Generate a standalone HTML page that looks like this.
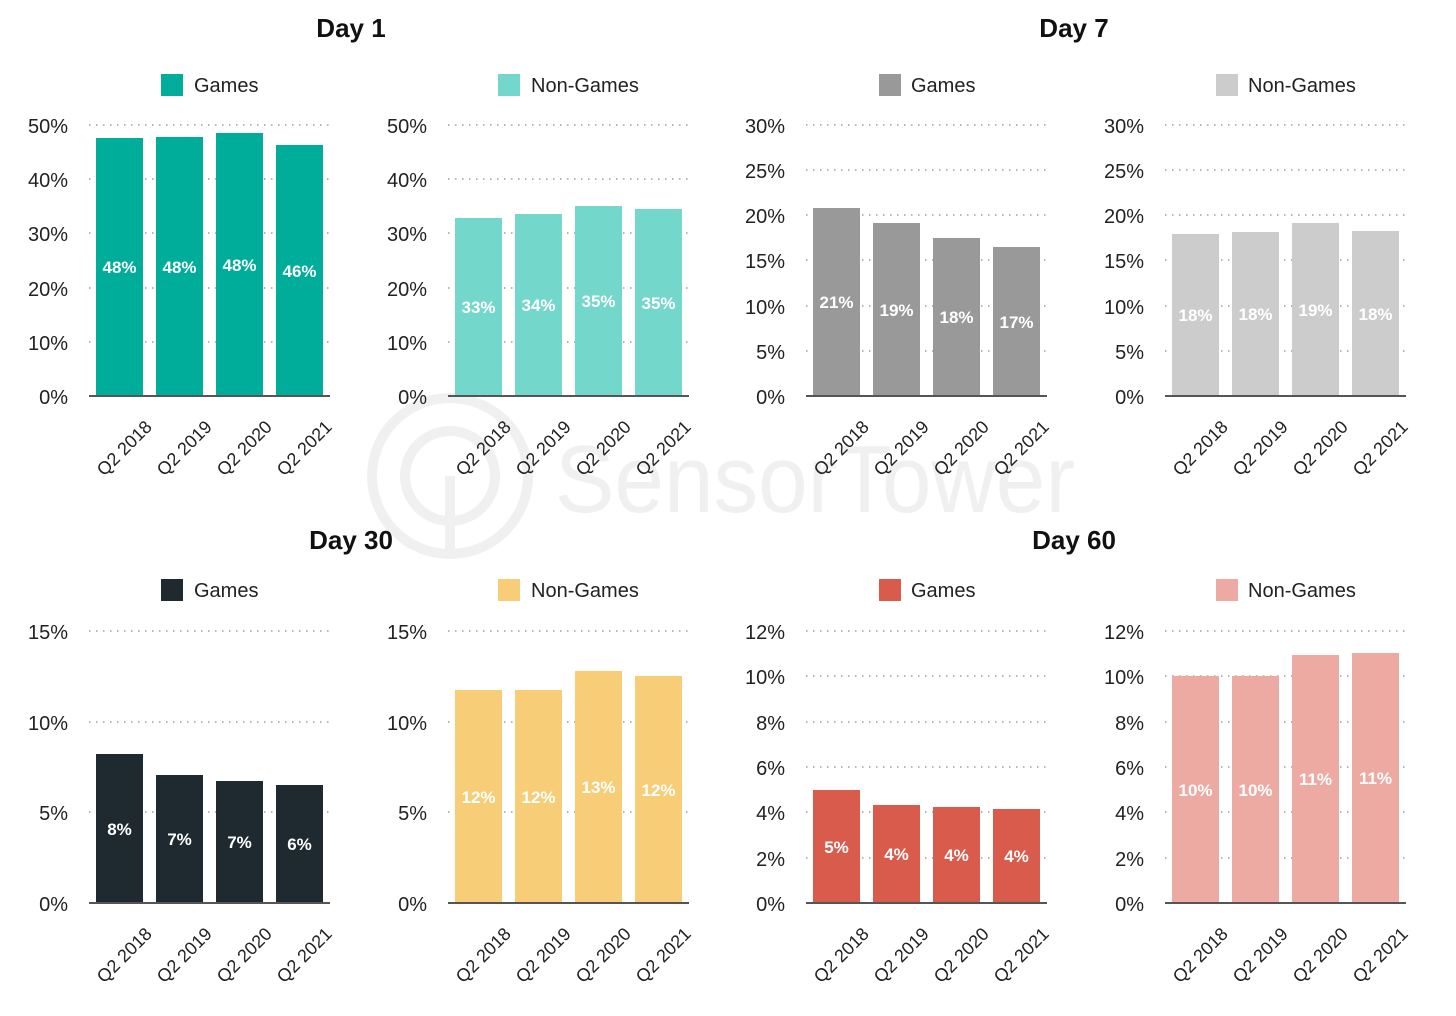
<!DOCTYPE html>
<html><head><meta charset="utf-8"><style>
html,body{margin:0;padding:0;background:#fff;}
svg{display:block;font-family:"Liberation Sans",sans-serif;}
.t{font-size:26px;font-weight:bold;text-anchor:middle;fill:#111;}
.lg{font-size:20px;fill:#222;}
.y{font-size:20px;text-anchor:end;fill:#222;}
.x{font-size:18px;text-anchor:end;fill:#222;}
.v{font-size:17px;font-weight:bold;text-anchor:middle;fill:#fff;}
.g{stroke:#b5b5b5;stroke-width:2;stroke-dasharray:1.5 5.5;}
.b{stroke:#555;stroke-width:2;}
</style></head><body>
<svg width="1456" height="1016" viewBox="0 0 1456 1016">
<!-- watermark -->
<circle cx="450" cy="476" r="78" fill="none" stroke="#f0f0f0" stroke-width="10"/>
<circle cx="450" cy="476" r="45" fill="none" stroke="#f0f0f0" stroke-width="10"/>
<line x1="450" y1="476" x2="450" y2="556" stroke="#f0f0f0" stroke-width="10"/>
<text x="555" y="512" font-size="96" fill="#f0f0f0" textLength="520" lengthAdjust="spacingAndGlyphs">SensorTower</text>

<text class="t" x="351" y="37">Day 1</text>
<text class="t" x="1074" y="37">Day 7</text>
<text class="t" x="351" y="549">Day 30</text>
<text class="t" x="1074" y="549">Day 60</text>

<!-- Panel 1 -->
<g transform="translate(89,0)">
<rect x="72" y="74" width="22" height="22" fill="#00AC9A"/><text class="lg" x="105" y="92">Games</text>
<g class="g"><line x1="0" x2="241" y1="125" y2="125"/><line x1="0" x2="241" y1="179" y2="179"/><line x1="0" x2="241" y1="233" y2="233"/><line x1="0" x2="241" y1="288" y2="288"/><line x1="0" x2="241" y1="342" y2="342"/></g>
<text class="y" x="-21" y="133">50%</text><text class="y" x="-21" y="187">40%</text><text class="y" x="-21" y="241">30%</text><text class="y" x="-21" y="296">20%</text><text class="y" x="-21" y="350">10%</text><text class="y" x="-21" y="404">0%</text>
<g fill="#00AC9A"><rect x="7" y="138" width="47" height="258"/><rect x="67" y="137" width="47" height="259"/><rect x="127" y="133" width="47" height="263"/><rect x="187" y="145" width="47" height="251"/></g>
<line class="b" x1="0" x2="241" y1="396" y2="396"/>
<text class="v" x="30.5" y="273">48%</text><text class="v" x="90.5" y="273">48%</text><text class="v" x="150.5" y="271">48%</text><text class="v" x="210.5" y="277">46%</text>
<text class="x" transform="translate(64,428) rotate(-45)">Q2 2018</text><text class="x" transform="translate(124,428) rotate(-45)">Q2 2019</text><text class="x" transform="translate(184,428) rotate(-45)">Q2 2020</text><text class="x" transform="translate(244,428) rotate(-45)">Q2 2021</text>
</g>

<!-- Panel 2 -->
<g transform="translate(448,0)">
<rect x="50" y="74" width="22" height="22" fill="#74D7CC"/><text class="lg" x="83" y="92">Non-Games</text>
<g class="g"><line x1="0" x2="241" y1="125" y2="125"/><line x1="0" x2="241" y1="179" y2="179"/><line x1="0" x2="241" y1="233" y2="233"/><line x1="0" x2="241" y1="288" y2="288"/><line x1="0" x2="241" y1="342" y2="342"/></g>
<text class="y" x="-21" y="133">50%</text><text class="y" x="-21" y="187">40%</text><text class="y" x="-21" y="241">30%</text><text class="y" x="-21" y="296">20%</text><text class="y" x="-21" y="350">10%</text><text class="y" x="-21" y="404">0%</text>
<g fill="#74D7CC"><rect x="7" y="218" width="47" height="178"/><rect x="67" y="214" width="47" height="182"/><rect x="127" y="206" width="47" height="190"/><rect x="187" y="209" width="47" height="187"/></g>
<line class="b" x1="0" x2="241" y1="396" y2="396"/>
<text class="v" x="30.5" y="313">33%</text><text class="v" x="90.5" y="311">34%</text><text class="v" x="150.5" y="307">35%</text><text class="v" x="210.5" y="309">35%</text>
<text class="x" transform="translate(64,428) rotate(-45)">Q2 2018</text><text class="x" transform="translate(124,428) rotate(-45)">Q2 2019</text><text class="x" transform="translate(184,428) rotate(-45)">Q2 2020</text><text class="x" transform="translate(244,428) rotate(-45)">Q2 2021</text>
</g>

<!-- Panel 3 -->
<g transform="translate(806,0)">
<rect x="73" y="74" width="22" height="22" fill="#999999"/><text class="lg" x="105" y="92">Games</text>
<g class="g"><line x1="0" x2="241" y1="125" y2="125"/><line x1="0" x2="241" y1="170" y2="170"/><line x1="0" x2="241" y1="215" y2="215"/><line x1="0" x2="241" y1="260" y2="260"/><line x1="0" x2="241" y1="306" y2="306"/><line x1="0" x2="241" y1="351" y2="351"/></g>
<text class="y" x="-21" y="133">30%</text><text class="y" x="-21" y="178">25%</text><text class="y" x="-21" y="223">20%</text><text class="y" x="-21" y="268">15%</text><text class="y" x="-21" y="314">10%</text><text class="y" x="-21" y="359">5%</text><text class="y" x="-21" y="404">0%</text>
<g fill="#999999"><rect x="7" y="208" width="47" height="188"/><rect x="67" y="223" width="47" height="173"/><rect x="127" y="238" width="47" height="158"/><rect x="187" y="247" width="47" height="149"/></g>
<line class="b" x1="0" x2="241" y1="396" y2="396"/>
<text class="v" x="30.5" y="308">21%</text><text class="v" x="90.5" y="316">19%</text><text class="v" x="150.5" y="323">18%</text><text class="v" x="210.5" y="328">17%</text>
<text class="x" transform="translate(64,428) rotate(-45)">Q2 2018</text><text class="x" transform="translate(124,428) rotate(-45)">Q2 2019</text><text class="x" transform="translate(184,428) rotate(-45)">Q2 2020</text><text class="x" transform="translate(244,428) rotate(-45)">Q2 2021</text>
</g>

<!-- Panel 4 -->
<g transform="translate(1165,0)">
<rect x="51" y="74" width="22" height="22" fill="#CCCCCC"/><text class="lg" x="83" y="92">Non-Games</text>
<g class="g"><line x1="0" x2="241" y1="125" y2="125"/><line x1="0" x2="241" y1="170" y2="170"/><line x1="0" x2="241" y1="215" y2="215"/><line x1="0" x2="241" y1="260" y2="260"/><line x1="0" x2="241" y1="306" y2="306"/><line x1="0" x2="241" y1="351" y2="351"/></g>
<text class="y" x="-21" y="133">30%</text><text class="y" x="-21" y="178">25%</text><text class="y" x="-21" y="223">20%</text><text class="y" x="-21" y="268">15%</text><text class="y" x="-21" y="314">10%</text><text class="y" x="-21" y="359">5%</text><text class="y" x="-21" y="404">0%</text>
<g fill="#CCCCCC"><rect x="7" y="234" width="47" height="162"/><rect x="67" y="232" width="47" height="164"/><rect x="127" y="223" width="47" height="173"/><rect x="187" y="231" width="47" height="165"/></g>
<line class="b" x1="0" x2="241" y1="396" y2="396"/>
<text class="v" x="30.5" y="321">18%</text><text class="v" x="90.5" y="320">18%</text><text class="v" x="150.5" y="316">19%</text><text class="v" x="210.5" y="320">18%</text>
<text class="x" transform="translate(64,428) rotate(-45)">Q2 2018</text><text class="x" transform="translate(124,428) rotate(-45)">Q2 2019</text><text class="x" transform="translate(184,428) rotate(-45)">Q2 2020</text><text class="x" transform="translate(244,428) rotate(-45)">Q2 2021</text>
</g>

<!-- Panel 5 -->
<g transform="translate(89,0)">
<rect x="72" y="579" width="22" height="22" fill="#1E2A30"/><text class="lg" x="105" y="597">Games</text>
<g class="g"><line x1="0" x2="241" y1="631" y2="631"/><line x1="0" x2="241" y1="722" y2="722"/><line x1="0" x2="241" y1="812" y2="812"/></g>
<text class="y" x="-21" y="639">15%</text><text class="y" x="-21" y="730">10%</text><text class="y" x="-21" y="820">5%</text><text class="y" x="-21" y="911">0%</text>
<g fill="#1E2A30"><rect x="7" y="754" width="47" height="149"/><rect x="67" y="775" width="47" height="128"/><rect x="127" y="781" width="47" height="122"/><rect x="187" y="785" width="47" height="118"/></g>
<line class="b" x1="0" x2="241" y1="903" y2="903"/>
<text class="v" x="30.5" y="835">8%</text><text class="v" x="90.5" y="845">7%</text><text class="v" x="150.5" y="848">7%</text><text class="v" x="210.5" y="850">6%</text>
<text class="x" transform="translate(64,935) rotate(-45)">Q2 2018</text><text class="x" transform="translate(124,935) rotate(-45)">Q2 2019</text><text class="x" transform="translate(184,935) rotate(-45)">Q2 2020</text><text class="x" transform="translate(244,935) rotate(-45)">Q2 2021</text>
</g>

<!-- Panel 6 -->
<g transform="translate(448,0)">
<rect x="50" y="579" width="22" height="22" fill="#F7CD78"/><text class="lg" x="83" y="597">Non-Games</text>
<g class="g"><line x1="0" x2="241" y1="631" y2="631"/><line x1="0" x2="241" y1="722" y2="722"/><line x1="0" x2="241" y1="812" y2="812"/></g>
<text class="y" x="-21" y="639">15%</text><text class="y" x="-21" y="730">10%</text><text class="y" x="-21" y="820">5%</text><text class="y" x="-21" y="911">0%</text>
<g fill="#F7CD78"><rect x="7" y="690" width="47" height="213"/><rect x="67" y="690" width="47" height="213"/><rect x="127" y="671" width="47" height="232"/><rect x="187" y="676" width="47" height="227"/></g>
<line class="b" x1="0" x2="241" y1="903" y2="903"/>
<text class="v" x="30.5" y="803">12%</text><text class="v" x="90.5" y="803">12%</text><text class="v" x="150.5" y="793">13%</text><text class="v" x="210.5" y="796">12%</text>
<text class="x" transform="translate(64,935) rotate(-45)">Q2 2018</text><text class="x" transform="translate(124,935) rotate(-45)">Q2 2019</text><text class="x" transform="translate(184,935) rotate(-45)">Q2 2020</text><text class="x" transform="translate(244,935) rotate(-45)">Q2 2021</text>
</g>

<!-- Panel 7 -->
<g transform="translate(806,0)">
<rect x="73" y="579" width="22" height="22" fill="#D95B4C"/><text class="lg" x="105" y="597">Games</text>
<g class="g"><line x1="0" x2="241" y1="631" y2="631"/><line x1="0" x2="241" y1="676" y2="676"/><line x1="0" x2="241" y1="722" y2="722"/><line x1="0" x2="241" y1="767" y2="767"/><line x1="0" x2="241" y1="812" y2="812"/><line x1="0" x2="241" y1="858" y2="858"/></g>
<text class="y" x="-21" y="639">12%</text><text class="y" x="-21" y="684">10%</text><text class="y" x="-21" y="730">8%</text><text class="y" x="-21" y="775">6%</text><text class="y" x="-21" y="820">4%</text><text class="y" x="-21" y="866">2%</text><text class="y" x="-21" y="911">0%</text>
<g fill="#D95B4C"><rect x="7" y="790" width="47" height="113"/><rect x="67" y="805" width="47" height="98"/><rect x="127" y="807" width="47" height="96"/><rect x="187" y="809" width="47" height="94"/></g>
<line class="b" x1="0" x2="241" y1="903" y2="903"/>
<text class="v" x="30.5" y="853">5%</text><text class="v" x="90.5" y="860">4%</text><text class="v" x="150.5" y="861">4%</text><text class="v" x="210.5" y="862">4%</text>
<text class="x" transform="translate(64,935) rotate(-45)">Q2 2018</text><text class="x" transform="translate(124,935) rotate(-45)">Q2 2019</text><text class="x" transform="translate(184,935) rotate(-45)">Q2 2020</text><text class="x" transform="translate(244,935) rotate(-45)">Q2 2021</text>
</g>

<!-- Panel 8 -->
<g transform="translate(1165,0)">
<rect x="51" y="579" width="22" height="22" fill="#EDAAA2"/><text class="lg" x="83" y="597">Non-Games</text>
<g class="g"><line x1="0" x2="241" y1="631" y2="631"/><line x1="0" x2="241" y1="676" y2="676"/><line x1="0" x2="241" y1="722" y2="722"/><line x1="0" x2="241" y1="767" y2="767"/><line x1="0" x2="241" y1="812" y2="812"/><line x1="0" x2="241" y1="858" y2="858"/></g>
<text class="y" x="-21" y="639">12%</text><text class="y" x="-21" y="684">10%</text><text class="y" x="-21" y="730">8%</text><text class="y" x="-21" y="775">6%</text><text class="y" x="-21" y="820">4%</text><text class="y" x="-21" y="866">2%</text><text class="y" x="-21" y="911">0%</text>
<g fill="#EDAAA2"><rect x="7" y="676" width="47" height="227"/><rect x="67" y="676" width="47" height="227"/><rect x="127" y="655" width="47" height="248"/><rect x="187" y="653" width="47" height="250"/></g>
<line class="b" x1="0" x2="241" y1="903" y2="903"/>
<text class="v" x="30.5" y="796">10%</text><text class="v" x="90.5" y="796">10%</text><text class="v" x="150.5" y="785">11%</text><text class="v" x="210.5" y="784">11%</text>
<text class="x" transform="translate(64,935) rotate(-45)">Q2 2018</text><text class="x" transform="translate(124,935) rotate(-45)">Q2 2019</text><text class="x" transform="translate(184,935) rotate(-45)">Q2 2020</text><text class="x" transform="translate(244,935) rotate(-45)">Q2 2021</text>
</g>
</svg>
</body></html>
